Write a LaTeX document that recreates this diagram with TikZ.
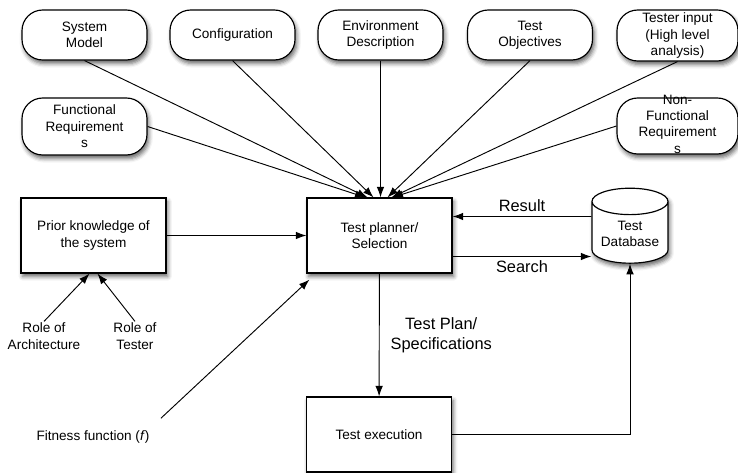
\documentclass[tikz,border=0pt]{standalone}
\usepackage{fontspec}
\setmainfont{Liberation Sans}
\usetikzlibrary{arrows.meta,shapes.geometric,shadows.blur,calc}

\begin{document}
\begin{tikzpicture}[
	x=0.03cm, y=-0.03cm,
	font=\fontsize{11.6}{14}\selectfont,
	shade/.style={
		blur shadow={shadow xshift=1.5pt, shadow yshift=-3pt, shadow blur radius=3.5pt, shadow opacity=60},
	},
	pill/.style={
		rectangle,
		rounded corners=0.62cm,
		draw,
		line width=1pt,
		fill=white,
		align=center,
		inner sep=0pt,
		minimum width=3.75cm,
		minimum height=1.5cm,
		shade,
	},
	block/.style={
		rectangle,
		draw,
		line width=1pt,
		fill=white,
		align=center,
		minimum width=4.35cm,
		minimum height=2.25cm,
		shade,
	},
	note/.style={align=center, inner sep=1pt},
	lbl/.style={font=\fontsize{14}{17}\selectfont, align=center},
	ArrowDB/.style={% Arrows with filled heads
		-{Latex[length=9pt,width=6.5pt]},
		line width=0.8pt,
	},
]

\useasboundingbox (0,0) rectangle (738,472);
\clip (0,0) rectangle (738,472);

\node[pill] (sysmodel) at (84.5,35) {System\\Model};
\node[pill] (config) at (232.5,35) {Configuration};
\node[pill] (envdesc) at (380.5,35) {Environment\\Description};
\node[pill] (testobj) at (530,35) {Test\\Objectives};
\node[pill, minimum width=3.63cm, minimum height=1.53cm] (testerin) at (677.5,35.5)
	{\fontsize{11.6}{15}\selectfont Tester input\\(High level\\analysis)};

\node[pill, minimum height=1.71cm] (funcreq) at (84.5,126.5)
	{\fontsize{11.6}{15.5}\selectfont Functional\\Requirement\\s};
\node[pill, minimum width=3.63cm, minimum height=1.68cm] (nonfunc) at (677.5,126)
	{\smash{\raisebox{-2.5pt}{\begin{tabular}{@{}c@{}}Non-\\Functional\\Requirement\\s\end{tabular}}}};

\node[block] (prior) at (93.5,235.5) {Prior knowledge of\\the system};
\node[block] (plan) at (379.5,235.5) {Test planner/\\Selection};
\node[cylinder, shape border rotate=90, aspect=0.4, draw, line width=1pt, fill=white,
	minimum width=2.28cm, minimum height=2.22cm, align=center, shade] (testdb) at (630,235.5)
	{\raisebox{-3.5pt}{\begin{tabular}{@{}c@{}}Test\\Database\end{tabular}}};
\node[block] (exec) at (379,434.5) {Test execution};

\node[note] (rolearch) at (44,336) {Role of\\Architecture};
\node[note] (roletester) at (135,336) {Role of\\Tester};
\node[note] (fitness) at (93,437) {Fitness function (\textit{f})};

\foreach \src/\dx in {funcreq.east/-14, sysmodel.south/-12, config.south/-6, envdesc.south/1,
	testobj.south/8, testerin.south/12, nonfunc.west/13}
	\draw[ArrowDB] (\src) -- ($(plan.north)+(\dx,0)$);

\draw[ArrowDB] (prior) -- (plan);
\draw[ArrowDB] (rolearch.north) -- ($(prior.south)+(-4,0)$);
\draw[ArrowDB] (roletester.north) -- ($(prior.south)+(4,0)$);
\draw[ArrowDB] ($(fitness.north east)+(10,-11)$) -- ($(plan.south west)+(3,6)$);

\draw[ArrowDB] ($(testdb.west)+(0,-19)$) -- node[lbl, above] (result) {Result} ($(plan.east)+(0,-19)$);
\draw[ArrowDB] ($(plan.east)+(0,21)$) -- node[lbl, below] (search) {Search} ($(testdb.west)+(0,21)$);

\draw[ArrowDB] (plan) -- node[lbl, right=6pt] (planspec) {Test Plan/\\Specifications} (exec);
\draw[ArrowDB] (exec.east) -| (testdb.south);

\end{tikzpicture}
\end{document}
